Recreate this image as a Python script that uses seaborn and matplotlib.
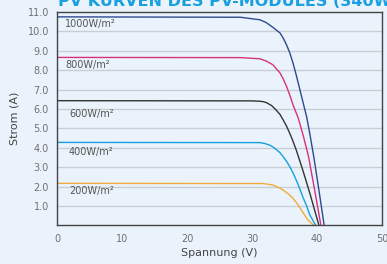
import matplotlib
matplotlib.use("Agg")
import matplotlib.pyplot as plt
import seaborn as sns
import pandas as pd

# ---- data ----
labels = ["1000W/m²", "800W/m²", "600W/m²", "400W/m²", "200W/m²"]
v_1000 = [0, 28.2, 31.2, 32.2, 33.2, 34.3, 34.8, 35.3, 35.8, 36.3, 36.8, 37.3, 37.8, 38.4, 38.9, 39.5, 40.3, 41.1]
i_1000 = [10.75, 10.73, 10.6, 10.45, 10.21, 9.92, 9.65, 9.31, 8.9, 8.37, 7.75, 7.08, 6.4, 5.6, 4.7, 3.54, 1.8, 0]
v_800 = [0, 28.2, 31.2, 32.2, 33.2, 34.3, 34.8, 35.3, 35.8, 36.3, 37.1, 37.9, 38.7, 39.7, 40.6]
i_800 = [8.66, 8.65, 8.59, 8.47, 8.28, 7.86, 7.55, 7.17, 6.72, 6.22, 5.54, 4.6, 3.54, 1.7, 0]
v_600 = [0, 30.0, 31.2, 31.7, 32.2, 33.0, 33.7, 34.3, 34.8, 35.3, 35.8, 36.3, 36.8, 37.8, 38.9, 40.3]
i_600 = [6.43, 6.42, 6.4, 6.38, 6.33, 6.18, 5.95, 5.72, 5.43, 5.12, 4.75, 4.34, 3.89, 2.86, 1.65, 0]
v_400 = [0, 31.2, 32.0, 32.7, 33.2, 33.7, 34.3, 34.8, 35.3, 35.8, 36.3, 36.8, 37.3, 37.8, 38.4, 38.9, 39.8]
i_400 = [4.28, 4.27, 4.22, 4.14, 4.05, 3.92, 3.75, 3.54, 3.31, 3.03, 2.71, 2.34, 1.93, 1.48, 1.0, 0.54, 0]
v_200 = [0, 31.5, 32.4, 33.2, 34.0, 34.8, 35.6, 36.3, 37.0, 37.6, 38.1, 38.6, 39.5]
i_200 = [2.17, 2.16, 2.13, 2.08, 1.97, 1.82, 1.62, 1.40, 1.1, 0.79, 0.53, 0.28, 0]
label_pos_v = [1.2, 1.3, 1.8, 1.8, 1.8]
label_pos_i = [10.4, 8.25, 5.75, 3.8, 1.78]
y_ticks = [1, 2, 3, 4, 5, 6, 7, 8, 9, 10, 11]
x_ticks = [0, 10, 20, 30, 40, 50]
title = "PV KURVEN DES PV-MODULES (340W)"
colors = ["#2d4a8e", "#d6317d", "#333333", "#149fdf", "#f2aa3a"]

series = [(v_1000, i_1000), (v_800, i_800), (v_600, i_600), (v_400, i_400), (v_200, i_200)]
rows = []
for lab, (vs, is_) in zip(labels, series):
    for v, i in zip(vs, is_):
        rows.append({"V": v, "I": i, "irr": lab})
df = pd.DataFrame(rows)

sns.set_theme(style="white")
plt.rcParams["font.family"] = ["DejaVu Sans"]
bg = "#eaf3fb"
fig = plt.figure(figsize=(3.87, 2.64), dpi=100, facecolor=bg)
ax = fig.add_axes([0.148, 0.146, 0.839, 0.8085])
ax.set_facecolor(bg)

ax.set_axisbelow(True)
for t in y_ticks[:-1]:
    ax.axhline(t, color="#c9ced4", lw=1.0, zorder=0)

sns.lineplot(data=df, x="V", y="I", hue="irr", units="irr", estimator=None, sort=False,
             palette=dict(zip(labels, colors)), linewidth=1.0, legend=False, ax=ax)

for lab, lv, li in zip(labels, label_pos_v, label_pos_i):
    ax.text(lv, li, lab, fontsize=7, color="#555555", va="center", ha="left")

ax.set_xlim(0, 50)
ax.set_ylim(0, 11)
ax.set_xticks(x_ticks)
ax.set_yticks(y_ticks)
ax.set_yticklabels([f"{t:.1f}" for t in y_ticks])
ax.tick_params(axis="both", length=0, labelsize=7, labelcolor="#707070")
ax.tick_params(axis="x", pad=6)
ax.tick_params(axis="y", pad=6)
for s in ax.spines.values():
    s.set_color("#444444")
    s.set_linewidth(1.0)

ax.set_xlabel("Spannung (V)", fontsize=8, color="#444444", labelpad=3)
ax.set_ylabel("Strom (A)", fontsize=8, color="#444444", labelpad=6)

fig.text(58 / 387, 1 - 5.5 / 264, title, fontsize=11.5, fontweight="bold",
         color="#1a9fe0", ha="left", va="baseline")

fig.savefig("out.png", dpi=100, facecolor=bg)
